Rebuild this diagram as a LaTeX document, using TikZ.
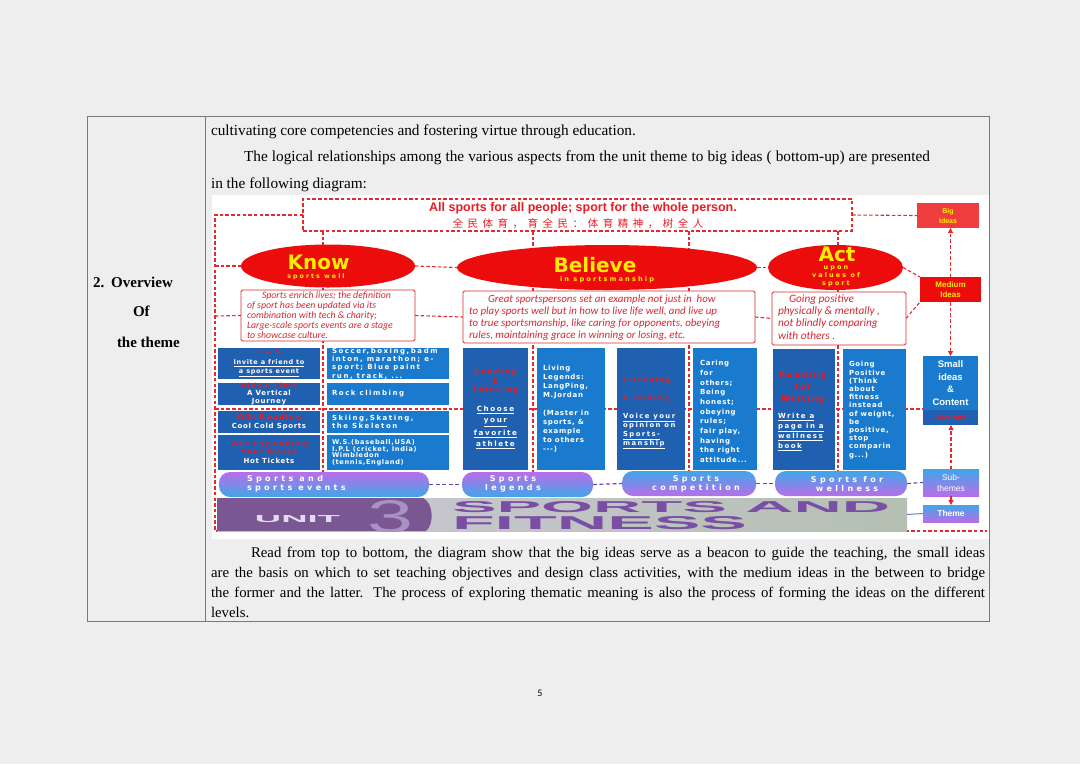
\documentclass[tikz,border=0pt]{standalone}
\usepackage{fontspec}
\usepackage{graphicx}
\setmainfont{Liberation Serif}
\newfontfamily\arialf{Liberation Sans}
\newfontfamily\dejan[LetterSpace=10]{DejaVu Sans}
\newfontfamily\dejab[LetterSpace=22]{DejaVu Sans}
\newfontfamily\dejam[LetterSpace=32]{DejaVu Sans}
\newfontfamily\dejaw[LetterSpace=42]{DejaVu Sans}
\newfontfamily\dejah{DejaVu Sans}
\newfontfamily\cjk{Noto Sans CJK SC}
\newfontfamily\hand{Carlito}
\usetikzlibrary{shapes.geometric,arrows.meta}
\pgfdeclarelayer{back}
\pgfdeclarelayer{bg}
\pgfsetlayers{back,bg,main}
\definecolor{pagebg}{RGB}{238,238,238}
\definecolor{tline}{RGB}{120,120,120}
\definecolor{ered}{RGB}{236,12,12}
\definecolor{bigred}{RGB}{240,62,62}
\definecolor{eyel}{RGB}{255,236,0}
\definecolor{dred}{RGB}{228,40,45}
\definecolor{bdk}{RGB}{32,96,176}
\definecolor{blt}{RGB}{26,122,206}
\definecolor{rtxt}{RGB}{232,28,36}
\definecolor{hred}{RGB}{215,40,50}
\definecolor{ppur}{RGB}{185,110,232}
\definecolor{pblu}{RGB}{64,166,232}
\definecolor{bnpur}{RGB}{122,86,146}
\definecolor{bntxt}{RGB}{122,78,164}
\definecolor{bnl}{RGB}{205,200,215}
\definecolor{bnr}{RGB}{180,192,178}
\definecolor{pdash}{RGB}{100,70,170}
\definecolor{unitc}{RGB}{225,220,235}
\definecolor{threec}{RGB}{170,145,195}
\definecolor{themel}{RGB}{110,130,190}
\tikzset{
  lab/.style={inner sep=0pt, outer sep=0pt},
  dr/.style={draw=dred, line width=1.1pt, dash pattern=on 3.5pt off 2.2pt},
  pd/.style={draw=pdash, line width=1.1pt, dash pattern=on 4pt off 2.5pt},
  arr/.style={dr, -{Triangle[length=5pt,width=5pt]}},
  bx/.style={inner sep=0pt, outer sep=0pt, text=white, align=center},
  bd/.style={bx, fill=bdk},
  bl/.style={bx, fill=blt},
  bt/.style={lab, text=white, align=left, anchor=west},
  ell/.style={ellipse, fill=ered, inner sep=0pt, outer sep=0pt},
  etxt/.style={lab, text=eyel},
  hbox/.style={draw=hred, line width=0.8pt, fill=white, rounded corners=1.5pt, inner sep=0pt, outer sep=0pt},
  htxt/.style={lab, text=hred, align=left, anchor=north west},
  pill/.style={rounded corners=11pt, inner sep=0pt, outer sep=0pt},
  ptxt/.style={lab, text=white, font=\dejaw\bfseries\fontsize{8}{9}\selectfont},
  body/.style={lab, anchor=base west},
}
\begin{document}
\begin{tikzpicture}[x=1pt,y=-1pt]
\useasboundingbox (0,0) rectangle (1080,764);
\begin{pgfonlayer}{back}
  \fill[pagebg] (0,0) rectangle (1080,764);
  \fill[white] (212,195) rectangle (989,539);
\end{pgfonlayer}
\draw[tline, line width=0.8pt] (87,116) rectangle (989,621);
\draw[tline, line width=0.8pt] (205,116) -- (205,621);

% left column
\node[body, font=\bfseries\fontsize{15}{15}\selectfont] (h1) at (93,287) {2.\hspace{7pt}Overview};
\node[body, font=\bfseries\fontsize{15}{15}\selectfont] (h2) at (133,316) {Of};
\node[body, font=\bfseries\fontsize{15}{15}\selectfont] (h3) at (117,347) {the theme};

% body text
\node[body, font=\fontsize{15.3}{15}\selectfont] (t1) at (211,135) {cultivating core competencies and fostering virtue through education.};
\node[body, font=\fontsize{15.3}{15}\selectfont] (t2) at (244,161) {\makebox[686pt][s]{The logical relationships among the various aspects from the unit theme to big ideas ( bottom-up) are presented}};
\node[body, font=\fontsize{15.3}{15}\selectfont] (t3) at (211,188) {in the following diagram:};
\node[body] (t4) at (211,557) {\parbox[t]{774pt}{\fontsize{14.8}{20}\selectfont\hspace*{40pt}Read from top to bottom, the diagram show that the big ideas serve as a beacon to guide the teaching, the small ideas\linebreak are the basis on which to set teaching objectives and design class activities, with the medium ideas in the between to bridge\linebreak the former and the latter. The process of exploring thematic meaning is also the process of forming the ideas on the different\linebreak levels.}};
\node[lab, font=\hand\fontsize{10}{10}\selectfont] (pg) at (540,693) {5};

% coordinates for the frame and guide lines
\coordinate (tl) at (215,215);
\coordinate (bl) at (215,531);
\coordinate (br) at (987,531);
\coordinate (el) at (215,266);
\coordinate (ml) at (215,316);
\coordinate (hl) at (215,409);
\coordinate (v1t) at (323,231); \coordinate (v1b) at (323,472);
\coordinate (v2t) at (533,231); \coordinate (v2b) at (533,472);
\coordinate (v3t) at (689,231); \coordinate (v3b) at (689,472);
\coordinate (v4t) at (838,231); \coordinate (v4b) at (838,472);

% big idea
\node[dr, fill=white, minimum width=549pt, minimum height=32pt, inner sep=0pt, outer sep=0pt] (big) at (577.5,215) {};
\node[lab, text=rtxt, font=\arialf\bfseries\fontsize{12.5}{12.5}\selectfont] (bigen) at (583,208) {All sports for all people; sport for the whole person.};
\node[lab, text=rtxt, font=\cjk\fontsize{10.5}{10.5}\selectfont] (bigcn) at (578,224) {\makebox[251pt]{全\hfill 民\hfill 体\hfill 育\hfill ，\hfill 育\hfill 全\hfill 民\hfill ：\hfill 体\hfill 育\hfill 精\hfill 神\hfill ，\hfill 树\hfill 全\hfill 人}};
\node[bx, fill=bigred, minimum width=62pt, minimum height=25pt, text=eyel, font=\arialf\bfseries\fontsize{7}{10}\selectfont] (bigid) at (948,215.5) {Big\\Ideas};

% medium ideas
\node[ell, minimum width=174pt, minimum height=43pt] (know) at (328,266) {};
\node[etxt, font=\dejah\bfseries\fontsize{20}{20}\selectfont] (knowt) at (318.5,262) {Know};
\node[etxt, font=\dejam\bfseries\fontsize{6.3}{6.3}\selectfont] (knows) at (316,277) {sports well};
\node[ell, minimum width=300pt, minimum height=45pt] (believe) at (607,267.5) {};
\node[etxt, font=\dejah\bfseries\fontsize{20}{20}\selectfont] (belt) at (595,265) {Believe};
\node[etxt, font=\dejam\bfseries\fontsize{6.6}{6.6}\selectfont] (bels) at (607,280) {in sportsmanship};
\node[ell, minimum width=135pt, minimum height=45pt] (act) at (835.5,267.5) {};
\node[etxt, font=\dejah\bfseries\fontsize{20}{20}\selectfont] (actt) at (837,254) {Act};
\node[etxt, align=center, font=\dejam\bfseries\fontsize{6.5}{8}\selectfont] (acts) at (836,276) {upon\\values of\\sport};
\node[bx, fill=ered, minimum width=61pt, minimum height=25pt, text=eyel, font=\arialf\bfseries\fontsize{8}{10.5}\selectfont] (medid) at (950.5,289.5) {Medium\\Ideas};

\node[hbox, minimum width=174pt, minimum height=51pt] (mb1) at (328,315.5) {};
\node[htxt, font=\hand\itshape\fontsize{9.8}{9.8}\selectfont] (mt1) at (247,292) {\hspace*{15pt}Sports enrich lives; the definition\\of sport has been updated via its\\combination with tech \& charity;\\Large-scale sports events are a stage\\to showcase culture.};
\node[hbox, minimum width=292pt, minimum height=52pt] (mb2) at (609,317) {};
\node[htxt, font=\hand\itshape\fontsize{10.9}{12}\selectfont] (mt2) at (469,295) {\hspace*{19pt}Great sportspersons set an example not just in\ \ how\\to play sports well but in how to live life well, and live up\\to true sportsmanship, like caring for opponents, obeying\\rules, maintaining grace in winning or losing, etc.};
\node[hbox, minimum width=134pt, minimum height=53pt] (mb3) at (839,318.5) {};
\node[htxt, font=\hand\itshape\fontsize{11.3}{12.3}\selectfont] (mt3) at (778,294.5) {\hspace*{11pt}Going positive\\physically \& mentally ,\\not blindly comparing\\with others .};

% small ideas: left section
\node[bd, minimum width=102pt, minimum height=31pt, font=\dejan\bfseries\fontsize{6.5}{9.3}\selectfont] (l1) at (269,363.5) {\textcolor{rtxt}{\dejab L \& S}\\\underline{Invite a friend to}\\\underline{a sports event}};
\node[bd, minimum width=102pt, minimum height=22pt, font=\dejan\bfseries\fontsize{7}{7.7}\selectfont] (l2) at (269,394) {\textcolor{rtxt}{\dejab Video Time}\\A Vertical\\Journey};
\node[bd, minimum width=102pt, minimum height=22pt, font=\dejan\bfseries\fontsize{7}{8.5}\selectfont] (l3) at (269,422) {\textcolor{rtxt}{\dejab WB: Reading}\\Cool Cold Sports};
\node[bd, minimum width=102pt, minimum height=35pt, font=\dejan\bfseries\fontsize{7}{7.3}\selectfont] (l4) at (269,452.5) {\textcolor{rtxt}{\dejab WB: Expanding}\\\textcolor{rtxt}{\dejab Your World}\\[2pt]Hot Tickets};
\node[bl, minimum width=122pt, minimum height=31pt] (r1) at (388,363.5) {};
\node[bt, font=\dejab\bfseries\fontsize{7}{8.3}\selectfont] (r1t) at (332,363.5) {Soccer,boxing,badm\\inton, marathon; e-\\sport; Blue paint\\run, track, ...};
\node[bl, minimum width=122pt, minimum height=22pt] (r2) at (388,394) {};
\node[bt, font=\dejab\bfseries\fontsize{7}{8.3}\selectfont] (r2t) at (332,394) {Rock climbing};
\node[bl, minimum width=122pt, minimum height=22pt] (r3) at (388,422) {};
\node[bt, font=\dejab\bfseries\fontsize{7}{8}\selectfont] (r3t) at (332,422) {Skiing,Skating,\\the Skeleton};
\node[bl, minimum width=122pt, minimum height=35pt] (r4) at (388,452.5) {};
\node[bt, font=\dejan\bfseries\fontsize{6.6}{6.6}\selectfont] (r4t) at (332,452.5) {W.S.(baseball,USA)\\I.P.L (cricket, India)\\Wimbledon\\(tennis,England)};

% small ideas: middle section
\node[bd, minimum width=65pt, minimum height=122pt, font=\dejab\bfseries\fontsize{7.2}{9}\selectfont] (m1) at (495.5,409) {\textcolor{rtxt}{Reading}\\\textcolor{rtxt}{\&}\\\textcolor{rtxt}{Thinking}\\[10pt]\underline{Choose}\\[2.5pt]\underline{your}\\[2.5pt]\underline{favorite}\\[2.5pt]\underline{athlete}};
\node[bl, minimum width=68pt, minimum height=122pt] (m2) at (571,409) {};
\node[bt, font=\dejan\bfseries\fontsize{7}{9}\selectfont] (m2t) at (543,409) {Living\\Legends:\\LangPing,\\M.Jordan\\[9pt](Master in\\sports, \&\\example\\to others\\---)};
\node[bd, minimum width=68pt, minimum height=122pt] (m3) at (651,409) {};
\node[bt, font=\dejab\bfseries\fontsize{6.8}{9}\selectfont] (m3t) at (623,413) {\textcolor{rtxt}{Listening}\\[9pt]\textcolor{rtxt}{\& Talking}\\[9pt]\underline{Voice your}\\opinion on\\\underline{Sports-}\\\underline{manship}};
\node[bl, minimum width=64pt, minimum height=122pt] (m4) at (725,409) {};
\node[bt, font=\dejan\bfseries\fontsize{7}{9.7}\selectfont] (m4t) at (700,411.5) {Caring\\for\\others;\\Being\\honest;\\obeying\\rules;\\fair play,\\having\\the right\\attitude...};

% small ideas: right section
\node[bd, minimum width=62pt, minimum height=121pt] (a1) at (804,409.5) {};
\node[bt, font=\dejab\bfseries\fontsize{7}{10}\selectfont] (a1t) at (778,411) {\makebox[50pt]{\textcolor{rtxt}{\fontsize{8}{10}\selectfont Reading}}\\[2pt]\makebox[50pt]{\textcolor{rtxt}{\fontsize{8}{10}\selectfont for}}\\[2pt]\makebox[50pt]{\textcolor{rtxt}{\fontsize{8}{10}\selectfont Writing}}\\[7pt]\underline{Write a}\\\underline{page in a}\\\underline{wellness}\\\underline{book}};
\node[bl, minimum width=63pt, minimum height=121pt] (a2) at (874.5,409.5) {};
\node[bt, font=\dejan\bfseries\fontsize{7}{8.2}\selectfont] (a2t) at (849,410) {Going\\Positive\\(Think\\about\\fitness\\instead\\of weight,\\be\\positive,\\stop\\comparin\\g...)};

\node[bl, minimum width=55pt, minimum height=54pt, font=\arialf\bfseries\fontsize{9.5}{12.5}\selectfont] (small) at (950.5,383) {Small\\ideas\\\&\\Content};
\node[bd, minimum width=55pt, minimum height=15pt, text=rtxt, font=\arialf\bfseries\fontsize{7.5}{7.5}\selectfont] (sect) at (950.5,417.5) {Sections};

% sub-themes
\node[pill, top color=ppur, bottom color=pblu, minimum width=210pt, minimum height=25pt] (p1) at (324,484.5) {};
\node[ptxt, align=left, anchor=west] (p1t) at (247,484) {Sports and\\sports events};
\node[pill, top color=ppur, bottom color=pblu, minimum width=131pt, minimum height=25pt] (p2) at (527.5,484.5) {};
\node[ptxt, align=center] (p2t) at (513,484) {Sports\\legends};
\node[pill, top color=pblu, bottom color=ppur, minimum width=134pt, minimum height=25pt] (p3) at (689,483.5) {};
\node[ptxt, align=center] (p3t) at (696,484) {Sports\\competition};
\node[pill, top color=pblu, bottom color=ppur, minimum width=132pt, minimum height=25pt] (p4) at (841,483.5) {};
\node[ptxt, align=center] (p4t) at (847,484) {Sports for\\wellness};
\node[bx, top color=pblu, bottom color=ppur, minimum width=56pt, minimum height=27pt, font=\arialf\fontsize{8.5}{11}\selectfont] (subth) at (951,482.5) {Sub-\\themes};
\node[bx, top color=pblu, bottom color=ppur, minimum width=56pt, minimum height=17pt, font=\arialf\bfseries\fontsize{8.5}{8.5}\selectfont] (theme) at (951,513.5) {Theme};

% unit banner
\node[lab, left color=bnl, right color=bnr, minimum width=690pt, minimum height=33pt] (banner) at (562,514.5) {};
\fill[bnpur] (217,498) -- (423,498) .. controls (434,503) and (434,525) .. (426,531) -- (217,531) -- cycle;
\begin{scope}
  \clip (217,498) rectangle (907,531);
  \node[lab, text=unitc] (unit) at (297.5,519) {\resizebox{85pt}{7pt}{\arialf\bfseries UNIT}};
  \node[lab, text=threec] (three) at (391,517) {\resizebox{46pt}{32pt}{\arialf 3}};
  \node[lab, anchor=north west, text=bntxt] (sptxt) at (452,501) {\resizebox{438pt}{11pt}{\arialf\bfseries SPORTS AND}};
  \node[lab, anchor=north west, text=bntxt] (fitxt) at (452,516) {\resizebox{295pt}{13pt}{\arialf\bfseries FITNESS}};
\end{scope}

% connectors behind the nodes
\begin{pgfonlayer}{bg}
  \draw[dr] (big.west) -- (tl) -- (bl) -- (br);
  \draw[dr] (big.east) -- (bigid.west);
  \draw[dr] (el) -- (know.west);
  \draw[dr] (know.east) -- (believe.west);
  \draw[dr] (believe.east) -- (act.west);
  \draw[dr] (act.east) -- (medid.north west);
  \draw[dr] (ml) -- (mb1.west);
  \draw[dr] (mb1.east) -- (mb2.west);
  \draw[dr] (mb2.east) -- (mb3.west);
  \draw[dr] (mb3.east) -- (medid.south west);
  \draw[dr] (v1t) -- (v1b);
  \draw[dr] (v2t) -- (v2b);
  \draw[dr] (v3t) -- (v3b);
  \draw[dr] (v4t) -- (v4b);
  \draw[dr] (hl) -- (hl -| small.west);
  \draw[pd] (p1.east) -- (p2.west);
  \draw[pd] (p2.east) -- (p3.west);
  \draw[pd] (p3.east) -- (p4.west);
  \draw[pd] (p4.east) -- (subth.west);
\end{pgfonlayer}

% arrows
\draw[arr] (medid.north) -- (medid.north |- bigid.south);
\draw[arr] (medid.south) -- (medid.south |- small.north);
\draw[arr] (subth.north) -- (subth.north |- sect.south);
\draw[arr] (subth.south) -- (theme.north);
\draw[themel, line width=1pt] (banner.east) -- (theme.west);
\end{tikzpicture}
\end{document}
